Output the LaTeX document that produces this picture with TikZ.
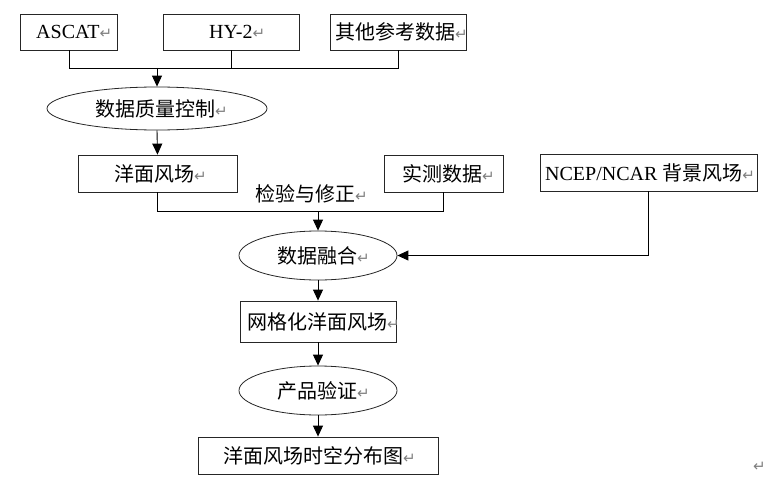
\documentclass[tikz,border=0pt]{standalone}
\usepackage{fontspec}
\setmainfont{Liberation Serif}
\newfontfamily\cjk{Noto Sans CJK SC}
\newfontfamily\symf{DejaVu Sans}
\usetikzlibrary{shapes.geometric,arrows.meta}
\newcommand{\ret}{{\color{gray}\symf\fontsize{15}{16}\selectfont ↵}}
\begin{document}
\begin{tikzpicture}[x=1pt,y=-1pt,
  box/.style={draw=black!85,line width=0.8pt,rectangle,inner sep=0pt},
  oval/.style={draw=black!85,line width=0.8pt,ellipse,inner sep=0pt},
  lbl/.style={inner sep=0pt,anchor=west,font=\fontsize{20}{23}\selectfont},
  conn/.style={draw=black,line width=0.9pt},
  arr/.style={conn,-{Triangle[length=11pt,width=10pt]}}]
\useasboundingbox (0,0) rectangle (767,484);
% boxes and ovals
\node[box,minimum width=97pt,minimum height=36pt] (ascat) at (69,32) {};
\node[box,minimum width=136pt,minimum height=36pt] (hy) at (231,32) {};
\node[box,minimum width=136pt,minimum height=36pt] (other) at (398,32) {};
\node[oval,minimum width=220pt,minimum height=43pt] (qc) at (157,108.5) {};
\node[box,minimum width=159pt,minimum height=37pt] (ocean) at (157.5,173.5) {};
\node[box,minimum width=119pt,minimum height=37pt] (obs) at (443.5,173.5) {};
\node[box,minimum width=217pt,minimum height=37pt] (ncep) at (648.5,172.5) {};
\node[oval,minimum width=158pt,minimum height=49pt] (fuse) at (318,255.5) {};
\node[box,minimum width=156pt,minimum height=41pt] (grid) at (318,321.5) {};
\node[oval,minimum width=158pt,minimum height=49pt] (verify) at (318,390.5) {};
\node[box,minimum width=240pt,minimum height=37pt] (final) at (318,455.5) {};
% labels
\node[lbl] (tascat) at (36,32) {ASCAT\ret};
\node[lbl] (thy) at (209,32) {HY-2\ret};
\node[lbl] (tother) at (335,32) {\cjk 其他参考数据\ret};
\node[lbl] (tqc) at (95,108.5) {\cjk 数据质量控制\ret};
\node[lbl] (tocean) at (114,173.5) {\cjk 洋面风场\ret};
\node[lbl] (tobs) at (402,173.5) {\cjk 实测数据\ret};
\node[lbl] (tcheck) at (255,194) {\cjk 检验与修正\ret};
\node[lbl] (tncep) at (545,172.5) {NCEP/NCAR {\cjk 背景风场}\ret};
\node[lbl] (tfuse) at (277,255.5) {\cjk 数据融合\ret};
\node[lbl] (tgrid) at (247,321.5) {\cjk 网格化洋面风场\ret};
\node[lbl] (tverify) at (277,390.5) {\cjk 产品验证\ret};
\node[lbl] (tfinal) at (223,455.5) {\cjk 洋面风场时空分布图\ret};
\node[inner sep=0pt,anchor=east] (tstray) at (766,467) {\ret};
% connectors
\coordinate (j1) at (157,68);
\coordinate (j2) at (318,211);
\draw[conn] (ascat.south) |- (j1);
\draw[conn] (other.south) |- (j1);
\draw[conn] (hy.south) -- (hy.south |- j1);
\draw[arr] (j1) -- (qc.north);
\draw[arr] (qc.south) -- (ocean.north);
\draw[conn] (ocean.south) |- (j2);
\draw[conn] (obs.south) |- (j2);
\draw[arr] (j2) -- (fuse.north);
\draw[arr] (ncep.south) |- (fuse.east);
\draw[arr] (fuse.south) -- (grid.north);
\draw[arr] (grid.south) -- (verify.north);
\draw[arr] (verify.south) -- (final.north);
\end{tikzpicture}
\end{document}
